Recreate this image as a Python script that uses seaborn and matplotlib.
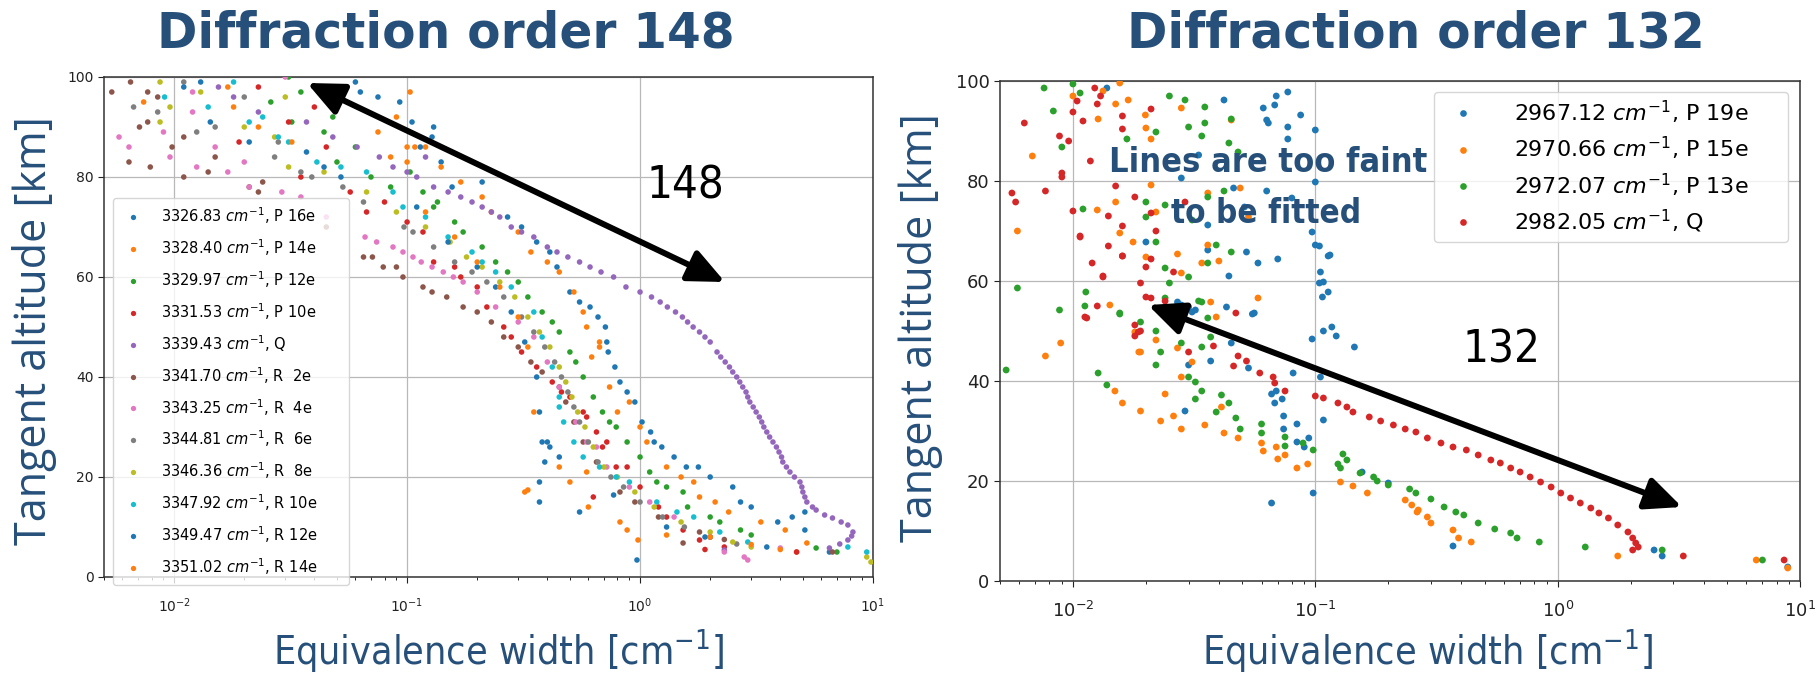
import os
import numpy as np
import pandas as pd
import matplotlib
matplotlib.use("Agg")
import matplotlib.pyplot as plt
import seaborn as sns
from matplotlib import font_manager as fm
from matplotlib.lines import Line2D
from matplotlib.patches import FancyArrowPatch

# ---------------- data: (equivalent width [cm-1], tangent altitude [km]) ----------------
left_labels = ["3326.83 $cm^{-1}$, P 16e", "3328.40 $cm^{-1}$, P 14e", "3329.97 $cm^{-1}$, P 12e",
               "3331.53 $cm^{-1}$, P 10e", "3339.43 $cm^{-1}$, Q", "3341.70 $cm^{-1}$, R  2e",
               "3343.25 $cm^{-1}$, R  4e", "3344.81 $cm^{-1}$, R  6e", "3346.36 $cm^{-1}$, R  8e",
               "3347.92 $cm^{-1}$, R 10e", "3349.47 $cm^{-1}$, R 12e", "3351.02 $cm^{-1}$, R 14e"]

P16e = [(0.06, 99), (0.075, 96), (0.093, 95), (0.063, 97), (0.105, 91), (0.13, 90), (0.114, 86), (0.128, 88),
        (0.14, 83), (0.156, 78), (0.21, 79), (0.27, 72), (0.31, 70), (0.36, 67), (0.41, 65), (0.44, 62),
        (0.50, 57), (0.55, 55), (0.61, 54), (0.66, 52), (0.71, 50), (0.72, 47), (0.73, 45), (0.78, 42),
        (0.82, 39), (0.88, 37), (0.95, 35), (1.02, 31), (1.11, 29), (1.15, 27), (1.24, 26), (1.4, 24),
        (1.58, 22), (1.78, 22), (2.0, 20), (2.5, 18), (2.7, 15), (3.0, 14), (3.9, 11), (4.5, 12),
        (5.1, 13), (5.1, 9.4), (6.5, 5)]
P14e = [(0.103, 97), (0.09, 92), (0.075, 89), (0.085, 84), (0.1, 86), (0.108, 86), (0.1, 83), (0.12, 86),
        (0.14, 82), (0.17, 79), (0.21, 76), (0.23, 73), (0.30, 69), (0.34, 65), (0.40, 63), (0.45, 61),
        (0.52, 57), (0.57, 53), (0.59, 50), (0.67, 47), (0.67, 46), (0.62, 44), (0.74, 38), (0.8, 33),
        (0.90, 35), (1.0, 30), (1.07, 27), (1.3, 22), (1.5, 20), (1.7, 19), (1.8, 16), (2.1, 15),
        (2.4, 13), (3.3, 11), (4.2, 9.4), (5.2, 6.8), (4.7, 5)]
P12e = [(0.031, 100), (0.035, 97), (0.026, 95), (0.048, 92), (0.032, 91), (0.044, 89), (0.06, 86),
        (0.05, 83), (0.07, 80), (0.085, 78), (0.103, 81), (0.117, 77), (0.13, 74), (0.135, 75), (0.16, 71),
        (0.174, 69), (0.21, 66), (0.24, 63), (0.27, 61), (0.30, 59), (0.33, 56), (0.38, 53), (0.42, 51),
        (0.45, 49), (0.50, 45), (0.53, 43), (0.57, 40), (0.63, 36), (0.69, 33), (0.74, 31), (0.79, 30),
        (0.88, 27), (1.0, 24), (1.1, 21), (1.18, 19), (1.3, 18), (1.53, 17), (1.6, 14), (2.0, 12),
        (2.2, 11), (2.7, 9.4), (3.0, 8.4), (5.7, 5.8), (7.0, 5)]
P10e = [(0.023, 98), (0.04, 94), (0.031, 91), (0.019, 87), (0.045, 86), (0.035, 80), (0.057, 77),
        (0.08, 75), (0.067, 73), (0.1, 71), (0.117, 69), (0.13, 63), (0.16, 62), (0.17, 60), (0.2, 58),
        (0.22, 54), (0.26, 50), (0.28, 48), (0.31, 45), (0.36, 42), (0.42, 39), (0.46, 37), (0.50, 36),
        (0.57, 33), (0.59, 32), (0.65, 29), (0.72, 27), (0.69, 26), (0.79, 22), (0.88, 22), (1.0, 18),
        (0.63, 16), (1.2, 14), (1.3, 12), (1.53, 9.4), (2.0, 8), (1.8, 7.4), (2.3, 6), (1.9, 5.5), (4.7, 5)]
Q = [(0.0155, 98), (0.018, 96), (0.023, 93), (0.037, 91), (0.048, 88), (0.061, 86), (0.076, 84),
     (0.087, 82), (0.12, 84), (0.1, 81), (0.11, 80), (0.13, 78), (0.15, 77), (0.17, 76), (0.19, 75),
     (0.21, 74), (0.23, 73), (0.25, 72), (0.28, 70), (0.31, 69), (0.35, 68), (0.40, 66), (0.44, 65),
     (0.49, 64), (0.55, 63), (0.61, 62), (0.68, 61), (0.77, 60), (0.87, 58), (1.0, 57), (1.12, 56),
     (1.22, 55), (1.31, 54), (1.42, 53), (1.52, 52), (1.6, 51), (1.69, 50), (1.8, 49), (1.9, 48),
     (2.0, 47), (2.14, 45), (2.22, 44), (2.32, 43), (2.42, 42), (2.5, 41), (2.6, 40), (2.68, 39),
     (2.76, 38), (2.85, 37), (2.9, 36), (2.96, 35), (3.06, 34), (3.15, 33), (3.25, 32), (3.33, 31),
     (3.4, 30), (3.5, 29), (3.6, 28), (3.72, 27), (3.85, 26), (3.95, 25), (4.05, 24), (4.1, 23),
     (4.25, 22), (4.4, 21), (4.6, 20), (4.86, 19), (4.95, 18), (5.0, 17), (5.1, 16), (5.2, 15),
     (5.5, 14), (5.7, 13.4), (6.2, 12.4), (6.7, 11.8), (7.3, 11), (7.8, 10.4), (8.2, 9), (8.1, 8.2),
     (7.8, 7.4), (7.2, 6.6), (6.5, 5.8), (2.3, 5.4)]
R2e = [(0.0054, 97), (0.0065, 99), (0.0077, 97), (0.0071, 90), (0.0077, 91), (0.0085, 96), (0.0098, 86),
       (0.011, 88), (0.0064, 83), (0.0079, 82), (0.011, 80), (0.014, 81), (0.015, 84), (0.021, 78),
       (0.023, 77), (0.024, 79), (0.045, 70), (0.065, 64), (0.071, 64), (0.079, 62), (0.09, 62),
       (0.096, 60), (0.117, 58), (0.128, 57), (0.148, 56), (0.174, 54), (0.20, 53), (0.23, 51),
       (0.26, 48), (0.30, 46), (0.34, 43), (0.38, 41), (0.45, 38), (0.48, 35), (0.52, 31), (0.57, 27),
       (0.65, 23), (0.82, 17), (0.95, 15), (1.2, 12), (1.8, 9), (2.3, 7.5), (1.53, 6.8), (6.7, 5)]
R4e = [(0.03, 100), (0.012, 97), (0.012, 93), (0.009, 89), (0.0058, 88), (0.0064, 86), (0.015, 86),
       (0.0096, 84), (0.020, 83), (0.0125, 82), (0.017, 81), (0.021, 78), (0.029, 77), (0.035, 76),
       (0.045, 72), (0.066, 68), (0.074, 67), (0.087, 66), (0.096, 65), (0.106, 64), (0.115, 63),
       (0.128, 62), (0.143, 61), (0.158, 60), (0.174, 59), (0.2, 57), (0.24, 54), (0.3, 51), (0.35, 48),
       (0.4, 43), (0.45, 38), (0.53, 31), (0.59, 27), (0.65, 26), (0.72, 22), (0.9, 18), (1.1, 15),
       (1.4, 12), (4.0, 5.8), (2.3, 5), (2.8, 4), (2.9, 3.4)]
R6e = [(0.011, 99), (0.02, 96), (0.0067, 94), (0.0085, 93), (0.0125, 89), (0.015, 90), (0.027, 84),
       (0.028, 87), (0.035, 81), (0.039, 80), (0.053, 78), (0.065, 75), (0.097, 70), (0.106, 69),
       (0.13, 66), (0.16, 63), (0.19, 61), (0.22, 59), (0.26, 56), (0.31, 52), (0.35, 49), (0.39, 46),
       (0.43, 43), (0.46, 40), (0.49, 37), (0.52, 34), (0.55, 31), (0.6, 27), (0.66, 23), (0.75, 20),
       (0.85, 18), (1.0, 15), (1.25, 12), (1.55, 10), (2.0, 8), (2.6, 6.6)]
R8e = [(0.0087, 99), (0.013, 97), (0.03, 96), (0.0096, 94), (0.0087, 91), (0.02, 90), (0.027, 88),
       (0.031, 82), (0.044, 81), (0.067, 77), (0.09, 73), (0.12, 70), (0.153, 67), (0.18, 64),
       (0.21, 62), (0.25, 59), (0.29, 56), (0.33, 52), (0.37, 49), (0.41, 46), (0.45, 42), (0.48, 39),
       (0.51, 36), (0.54, 33), (0.58, 30), (0.63, 26), (0.7, 22), (0.8, 20), (0.95, 17), (1.15, 14),
       (1.5, 11), (2.0, 9), (2.5, 7), (3.0, 6), (9.4, 4), (9.8, 3)]
R10e = [(0.018, 99), (0.0091, 96), (0.05, 95), (0.014, 94), (0.024, 92), (0.021, 91), (0.028, 88),
        (0.031, 87), (0.041, 83), (0.052, 82), (0.067, 81), (0.087, 77), (0.096, 74), (0.12, 72),
        (0.15, 68), (0.19, 65), (0.21, 63), (0.24, 61), (0.28, 58), (0.35, 53), (0.38, 48), (0.42, 42),
        (0.45, 36), (0.45, 34), (0.47, 31), (0.52, 27), (0.57, 24), (0.67, 22), (0.79, 20), (0.9, 19),
        (1.18, 15), (1.44, 13), (1.7, 12), (2.2, 9), (2.9, 7), (7.8, 6), (9.4, 5)]
R12e = [(0.013, 99), (0.011, 98), (0.0143, 91), (0.021, 87), (0.037, 85), (0.044, 82), (0.052, 80),
        (0.11, 74), (0.15, 67), (0.2, 62), (0.24, 58), (0.28, 53), (0.32, 47), (0.36, 40), (0.37, 33),
        (0.40, 27), (0.38, 27), (0.41, 26), (0.45, 24), (0.39, 23), (0.37, 19), (0.77, 16.4), (0.37, 15),
        (0.55, 13), (1.3, 10), (1.9, 8), (3.5, 6), (0.97, 3.4)]
R14e = [(0.017, 98), (0.0074, 95), (0.018, 94), (0.023, 90), (0.032, 87), (0.12, 73), (0.16, 68),
        (0.2, 63), (0.25, 58), (0.3, 52), (0.33, 46), (0.35, 33), (0.45, 22), (0.59, 21), (0.5, 19),
        (0.33, 17.4), (0.32, 17), (0.6, 14), (0.82, 11), (0.88, 9.4), (1.3, 8.4), (2.0, 8), (0.98, 7.4),
        (3.0, 6.5), (4.0, 5.5)]
left_series = [P16e, P14e, P12e, P10e, Q, R2e, R4e, R6e, R8e, R10e, R12e, R14e]

right_labels = ["2967.12 $cm^{-1}$, P 19e", "2970.66 $cm^{-1}$, P 15e",
                "2972.07 $cm^{-1}$, P 13e", "2982.05 $cm^{-1}$, Q"]
P19e = [(0.0138, 98.6), (0.042, 96.2), (0.046, 78.6), (0.051, 74.8), (0.052, 65.8), (0.058, 63.6),
        (0.061, 94.6), (0.063, 92.2), (0.064, 91.6), (0.063, 78), (0.068, 95.2), (0.069, 97),
        (0.070, 64.4), (0.077, 97.8), (0.077, 88.4), (0.077, 90.8), (0.080, 76.6), (0.087, 93.2),
        (0.10, 90.2), (0.10, 79.8), (0.10, 67.2), (0.105, 61.8), (0.108, 59.8), (0.115, 65.2),
        (0.097, 69.8), (0.043, 54.8), (0.055, 53.4), (0.033, 85.2), (0.028, 80.6), (0.036, 71.2),
        (0.036, 66.2), (0.020, 67.8), (0.030, 54.8), (0.031, 53.8), (0.027, 55.8), (0.028, 55.2),
        (0.032, 54.2), (0.045, 47.6), (0.037, 44), (0.030, 43.2), (0.029, 34), (0.053, 42.6),
        (0.056, 53.6), (0.044, 61), (0.081, 41.6), (0.066, 37.4), (0.069, 38), (0.068, 35.6),
        (0.073, 36.4), (0.074, 33), (0.074, 30.4), (0.084, 31.4), (0.084, 27.8), (0.09, 26.8),
        (0.094, 28.6), (0.066, 15.6), (0.098, 17.6), (0.108, 32.2), (0.105, 40.8), (0.104, 59.6),
        (0.113, 57.8), (0.107, 56.8), (0.108, 50), (0.097, 48.4), (0.117, 50.8), (0.122, 49),
        (0.145, 46.8), (0.104, 67), (0.113, 65), (0.156, 21.8), (0.2, 19.6), (0.37, 7), (2.5, 6.2),
        (2.7, 5), (8.9, 2.8)]
P15e = [(0.0059, 70), (0.0068, 85), (0.0089, 47.6), (0.0077, 45), (0.01, 97), (0.0127, 92.4),
        (0.0133, 98), (0.0126, 74.2), (0.0142, 55.2), (0.015, 95.4), (0.015, 75.8), (0.0156, 69.6),
        (0.0156, 99.6), (0.0169, 96.2), (0.0177, 67.8), (0.018, 49.8), (0.0187, 45.8), (0.0199, 93.2),
        (0.020, 90.6), (0.021, 79.2), (0.021, 88.4), (0.022, 73.8), (0.020, 64.8), (0.022, 48.2),
        (0.027, 65.4), (0.028, 61.6), (0.028, 94.6), (0.034, 63.6), (0.036, 67.2), (0.036, 77.6),
        (0.037, 55.8), (0.039, 52.8), (0.040, 64), (0.045, 92.2), (0.049, 78.6), (0.053, 72.8),
        (0.058, 56.6), (0.0149, 38), (0.016, 35.6), (0.019, 34), (0.019, 45.8), (0.023, 32),
        (0.024, 37.4), (0.026, 33), (0.028, 30.4), (0.027, 46.6), (0.028, 40.8), (0.031, 43.8),
        (0.035, 31.2), (0.041, 34.8), (0.042, 29.6), (0.048, 28.6), (0.060, 27.6), (0.061, 26),
        (0.069, 26.8), (0.070, 24.4), (0.075, 25.2), (0.084, 22.6), (0.093, 23.4), (0.127, 19.8),
        (0.143, 19), (0.164, 17.6), (0.235, 16.2), (0.25, 15.2), (0.266, 14.2), (0.263, 13.8),
        (0.29, 12.8), (0.30, 11.6), (0.37, 10.2), (0.39, 8.6), (0.44, 7.8), (1.77, 5), (6.6, 4.2),
        (8.9, 2.6)]
P13e = [(0.0076, 98.6), (0.0083, 94), (0.009, 86.8), (0.0059, 58.6), (0.0088, 54.2), (0.010, 99.4),
        (0.0107, 97.6), (0.011, 74.4), (0.0113, 57.8), (0.0112, 55), (0.0156, 53.4), (0.0167, 88.4),
        (0.020, 72.8), (0.020, 75.8), (0.022, 89.8), (0.022, 67.8), (0.024, 75.2), (0.024, 62.6),
        (0.025, 97), (0.025, 59.6), (0.024, 56.6), (0.029, 96.2), (0.030, 90.8), (0.030, 60.8),
        (0.031, 72.2), (0.034, 55.8), (0.035, 94.8), (0.035, 91.6), (0.034, 89), (0.036, 76.8),
        (0.036, 63.6), (0.039, 67.2), (0.036, 52.6), (0.042, 78), (0.045, 92.4), (0.044, 87.6),
        (0.045, 65.8), (0.048, 85.8), (0.0053, 42.2), (0.0127, 41.6), (0.0138, 39.2), (0.0156, 53.6),
        (0.019, 51.8), (0.022, 50), (0.023, 45.8), (0.022, 43.2), (0.028, 47.6), (0.030, 40.8),
        (0.032, 39.8), (0.033, 56), (0.034, 46.8), (0.034, 38), (0.032, 36.4), (0.037, 48.8),
        (0.039, 33.8), (0.041, 37.2), (0.044, 35.6), (0.047, 32.6), (0.049, 30.4), (0.060, 31.4),
        (0.060, 29.6), (0.075, 28.8), (0.075, 27), (0.089, 27.6), (0.098, 26.2), (0.13, 25.4),
        (0.135, 24.2), (0.124, 23.4), (0.127, 22.6), (0.153, 21.6), (0.174, 20.8), (0.18, 20),
        (0.2, 19.2), (0.245, 18.4), (0.26, 17.6), (0.30, 16.4), (0.34, 14.8), (0.38, 13.8),
        (0.41, 13.2), (0.47, 11.6), (0.55, 10.4), (0.64, 9.6), (0.68, 8.6), (0.84, 7.8), (1.3, 6.8),
        (2.7, 6.2), (7.0, 4.2)]
Q132 = [(0.0063, 91.6), (0.0056, 77.6), (0.0058, 75.8), (0.0077, 78), (0.0088, 89), (0.0096, 88),
        (0.009, 81.6), (0.009, 80.8), (0.01, 74), (0.01, 93.8), (0.0104, 96), (0.011, 92), (0.0118, 84),
        (0.0123, 98.6), (0.0126, 95.4), (0.013, 97), (0.0107, 68.8), (0.012, 63.6), (0.0133, 60.8),
        (0.014, 73), (0.015, 79), (0.016, 93), (0.016, 90.4), (0.016, 71), (0.016, 65), (0.018, 76.8),
        (0.019, 59.6), (0.020, 56.8), (0.021, 94.4), (0.020, 62.8), (0.021, 73.6), (0.022, 70),
        (0.018, 51.2), (0.0186, 49.8), (0.026, 61.8), (0.029, 75.8), (0.047, 53.6), (0.0126, 55),
        (0.0112, 52.8), (0.0114, 52.6), (0.0133, 61), (0.016, 65), (0.014, 67), (0.0107, 69),
        (0.021, 64.4), (0.019, 50), (0.018, 49), (0.021, 56.6), (0.024, 56), (0.030, 45.8),
        (0.038, 47), (0.046, 43), (0.048, 45), (0.052, 44), (0.059, 41.6), (0.067, 40.8), (0.068, 39.6),
        (0.075, 38), (0.1, 37), (0.108, 36.6), (0.124, 35.6), (0.135, 34.8), (0.143, 33.8),
        (0.167, 32.8), (0.186, 32), (0.21, 31.2), (0.235, 30.4), (0.26, 29.8), (0.29, 28.6),
        (0.33, 27.6), (0.37, 26.8), (0.42, 26.2), (0.47, 25.2), (0.53, 24.2), (0.58, 23.6),
        (0.64, 22.6), (0.70, 21.8), (0.77, 20.8), (0.85, 19.8), (0.94, 18.8), (1.03, 17.6),
        (1.13, 16.6), (1.24, 15.6), (1.37, 14.6), (1.48, 13.6), (1.62, 12.6), (1.77, 11.2),
        (1.95, 9.8), (2.04, 8.6), (2.1, 7.6), (2.15, 6.8), (2.04, 6.2), (3.3, 5), (8.6, 4.2)]
right_series = [P19e, P15e, P13e, Q132]

x_ticks = [0.01, 0.1, 1, 10]
y_ticks = [0, 20, 40, 60, 80, 100]

# ---------------- styling ----------------
W, H, DPI = 1819, 676, 100
BLUE_TXT = "#26507a"
tab10 = sns.color_palette("tab10")
left_colors = [tab10[i % 10] for i in range(12)]
right_colors = [tab10[i] for i in range(4)]


def has_font(name):
    try:
        fm.findfont(fm.FontProperties(family=name), fallback_to_default=False)
        return True
    except Exception:
        return False


def condensed_font(bold):
    """Return FontProperties of an installed condensed/narrow face, else None."""
    best, best_score = None, -1e9
    for f in fm.fontManager.ttflist:
        base = os.path.basename(f.fname)
        low = base.lower()
        if not any(k in low for k in ("narrow", "condensed", "cond")):
            continue
        if f.style != "normal" or "italic" in low or "oblique" in low:
            continue
        try:
            w = int(f.weight)
        except Exception:
            w = {"normal": 400, "regular": 400, "bold": 700, "light": 300}.get(str(f.weight), 400)
        score = -abs(w - (700 if bold else 400)) / 100.0
        if "extra" in low or "ultra" in low:
            score -= 3
        if "semi" in low:
            score -= 1.5
        if "liberation" in low:
            score += 1
        if score > best_score:
            best, best_score = f.fname, score
    if best is None or best_score < -2.5:
        return None
    return fm.FontProperties(fname=best)


OPEN = "Open Sans" if has_font("Open Sans") else "DejaVu Sans"
COND_REG = condensed_font(False)
COND_BOLD = condensed_font(True)
plt.rcParams["mathtext.fontset"] = "dejavusans"


def to_frame(series, labels):
    rows = []
    for lab, pts in zip(labels, series):
        for w, a in pts:
            rows.append((lab, w, a))
    return pd.DataFrame(rows, columns=["line", "width", "alt"])


fig = plt.figure(figsize=(W / DPI, H / DPI), dpi=DPI)
fig.patch.set_facecolor("white")


def px_box(x0, y0, x1, y1):
    return [x0 / W, 1 - y1 / H, (x1 - x0) / W, (y1 - y0) / H]


axL = fig.add_axes(px_box(104, 77, 873, 577))
axR = fig.add_axes(px_box(1000, 81, 1800, 581))


def draw(ax, series, labels, colors, size, tick_fs):
    ax.set_xscale("log")
    df = to_frame(series, labels)
    sns.scatterplot(data=df, x="width", y="alt", hue="line", hue_order=labels, palette=colors,
                    s=size, linewidth=0, legend=False, ax=ax, zorder=3)
    ax.set_xlim(0.005, 10)
    ax.set_ylim(0, 100)
    ax.set_xticks(x_ticks)
    ax.set_yticks(y_ticks)
    ax.grid(True, which="major", color="#b8b8b8", lw=0.9)
    ax.set_axisbelow(True)
    ax.set_xlabel("")
    ax.set_ylabel("")
    ax.tick_params(axis="both", which="major", labelsize=tick_fs, colors="#222222", length=4)
    ax.tick_params(axis="x", which="major", pad=10)
    for sp in ax.spines.values():
        sp.set_color("#333333")
        sp.set_linewidth(1.1)


draw(axL, left_series, left_labels, left_colors, 16, 10)
draw(axR, right_series, right_labels, right_colors, 24, 13)

# legends (fixed-width frames like the reference)
hL = [Line2D([], [], marker="o", ls="", markersize=3.8, markeredgewidth=0, color=c) for c in left_colors]
axL.legend(hL, left_labels, loc="upper left", bbox_to_anchor=(0.0117, 0.0, 0.307, 0.758),
           mode="expand", borderaxespad=0, fontsize=10.5, labelspacing=0.77, handlelength=1.7,
           handletextpad=1.1, borderpad=0.5, framealpha=0.8, edgecolor="#cccccc")
hR = [Line2D([], [], marker="o", ls="", markersize=4.8, markeredgewidth=0, color=c) for c in right_colors]
axR.legend(hR, right_labels, loc="upper left", bbox_to_anchor=(0.5425, 0.0, 0.4425, 0.978),
           mode="expand", borderaxespad=0, fontsize=16, labelspacing=0.42, handlelength=2.0,
           handletextpad=1.3, borderpad=0.3, framealpha=0.8, edgecolor="#cccccc")

renderer = fig.canvas.get_renderer()


def ftext(x, y, s, width=None, fontprops=None, **kw):
    """Place centred text at pixel (x, y from top); optionally fit its width in pixels."""
    if fontprops is not None:
        kw["fontproperties"] = fontprops.copy()
        kw["fontproperties"].set_size(kw.pop("fontsize", 20))
        if kw.pop("fontweight", None) == "bold":
            kw["fontproperties"].set_weight("bold")
    t = fig.text(x / W, 1 - y / H, s, ha="center", va="center", **kw)
    if width is not None:
        for _ in range(2):
            wpx = t.get_window_extent(renderer=renderer).width
            if wpx > 0:
                t.set_fontsize(t.get_fontsize() * width / wpx)
    return t


# titles
ftext(446, 33, "Diffraction order 148", fontsize=35, fontweight="bold", color=BLUE_TXT, family="DejaVu Sans")
ftext(1416, 33, "Diffraction order 132", fontsize=35, fontweight="bold", color=BLUE_TXT, family="DejaVu Sans")
# axis labels
ftext(35, 331, "Tangent altitude [km]", fontsize=31, rotation=90, color=BLUE_TXT, family=OPEN)
ftext(920, 328, "Tangent altitude [km]", fontsize=31, rotation=90, color=BLUE_TXT, family=OPEN)
xl_kw = dict(fontsize=34, color=BLUE_TXT)
if COND_REG is not None:
    xl_kw["fontprops"] = COND_REG
else:
    xl_kw["family"] = "Liberation Sans"
ftext(499, 650, r"Equivalence width [cm$^{\mathregular{-1}}$]", width=452, **xl_kw)
ftext(1428, 650, r"Equivalence width [cm$^{\mathregular{-1}}$]", width=452, **xl_kw)
# annotations
num_kw = dict(fontsize=36, color="black")
if COND_REG is not None:
    num_kw["fontprops"] = COND_REG
else:
    num_kw["family"] = "Liberation Sans"
ftext(685, 186, "148", width=78, **num_kw)
ftext(1501, 350, "132", width=78, **num_kw)
fb_kw = dict(fontsize=32, color=BLUE_TXT, fontweight="bold")
if COND_BOLD is not None:
    fb_kw["fontprops"] = COND_BOLD
else:
    fb_kw["family"] = "Liberation Sans"
ftext(1268, 163, "Lines are too faint", width=318, **fb_kw)
ftext(1266, 214, "to be fitted", width=190, **fb_kw)


def arrow(p0, p1):
    a = FancyArrowPatch((p0[0] / W, 1 - p0[1] / H), (p1[0] / W, 1 - p1[1] / H),
                        transform=fig.transFigure, arrowstyle="<|-|>,head_length=1.0,head_width=0.45",
                        mutation_scale=22, lw=4.3, color="black", shrinkA=0, shrinkB=0, zorder=10)
    fig.add_artist(a)


arrow((307, 83), (725, 282))
arrow((1148, 305), (1682, 507))

fig.savefig("out.png", dpi=DPI, facecolor="white")
